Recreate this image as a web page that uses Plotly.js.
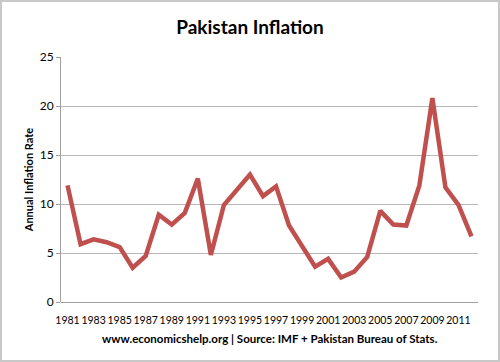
<!DOCTYPE html>
<html>
<head>
<meta charset="utf-8">
<script src="https://cdn.plot.ly/plotly-3.0.1.min.js"></script>
<style>
html,body{margin:0;padding:0;background:#fff;}
#frame{width:500px;height:362px;box-sizing:border-box;border:2px solid #c8c8c8;overflow:hidden;}
#chart{width:496px;height:358px;}
</style>
</head>
<body>
<div id="frame"><div id="chart"></div></div>
<script>
const years = ["1981","1982","1983","1984","1985","1986","1987","1988","1989","1990",
  "1991","1992","1993","1994","1995","1996","1997","1998","1999","2000",
  "2001","2002","2003","2004","2005","2006","2007","2008","2009","2010","2011","2012"];
const inflation = [11.9, 5.9, 6.4, 6.1, 5.6, 3.5, 4.7, 8.9, 7.9, 9.1,
  12.6, 4.8, 9.9, 11.4, 13.0, 10.8, 11.8, 7.8, 5.7, 3.6,
  4.4, 2.5, 3.1, 4.6, 9.3, 7.9, 7.8, 11.9, 20.8, 11.7, 9.9, 6.7];
const xTickLabels = ["1981","1983","1985","1987","1989","1991","1993","1995","1997","1999",
  "2001","2003","2005","2007","2009","2011"];
const yTicks = [0, 5, 10, 15, 20, 25];

const font = "Lato, 'Open Sans', sans-serif";

Plotly.newPlot('chart', [{
  x: years,
  y: inflation,
  type: 'scatter',
  mode: 'lines',
  line: {color: '#C0504D', width: 4.5},
  hoverinfo: 'skip'
}], {
  width: 496, height: 358,
  margin: {l: 59, r: 20, t: 55, b: 58},
  paper_bgcolor: '#fff', plot_bgcolor: '#fff',
  showlegend: false,
  title: {text: '<b>Pakistan Inflation</b>', font: {family: font, size: 19, color: '#000'},
    x: 0.5, xanchor: 'center', y: 0.93, yanchor: 'middle'},
  xaxis: {
    type: 'category',
    tickmode: 'array', tickvals: xTickLabels, ticktext: xTickLabels,
    tickangle: 0,
    tickfont: {family: font, size: 10.5, color: '#000'},
    ticklabelstandoff: 10,
    showgrid: false, zeroline: false,
    showline: false, ticks: '',
    range: [-0.5, years.length - 0.5],
    fixedrange: true
  },
  yaxis: {
    range: [0, 25],
    tickmode: 'array', tickvals: yTicks,
    tickfont: {family: font, size: 12, color: '#000'},
    showgrid: true, gridcolor: '#b8b8b8', gridwidth: 1,
    zeroline: true, zerolinecolor: '#a0a0a0', zerolinewidth: 1,
    showline: true, linecolor: '#a0a0a0', linewidth: 1,
    ticks: 'outside', ticklen: 4, tickcolor: '#a0a0a0',
    title: {text: '<b>Annual Inflation Rate</b>', font: {family: font, size: 11, color: '#000'}, standoff: 3},
    fixedrange: true
  },
  annotations: [{
    text: '<b>www.economicshelp.org | Source: IMF + Pakistan Bureau of Stats.</b>',
    xref: 'paper', yref: 'paper', x: 0.5, y: -0.15, xanchor: 'center', yanchor: 'middle',
    showarrow: false, font: {family: font, size: 11.5, color: '#000'}
  }]
}, {displayModeBar: false, staticPlot: true});
</script>
</body>
</html>
